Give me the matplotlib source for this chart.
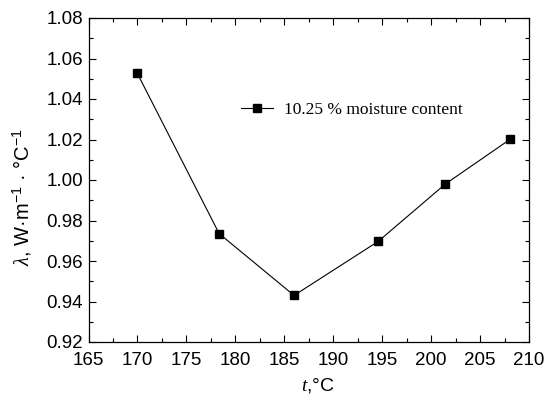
import matplotlib
matplotlib.use("Agg")
import matplotlib.pyplot as plt
from matplotlib.ticker import MultipleLocator

temps = [169.95, 178.35, 186.0, 194.6, 201.45, 208.1]
conductivity = [1.053, 0.9735, 0.943, 0.9697, 0.998, 1.0202]
series_label = "10.25 % moisture content"

x_ticks = [165, 170, 175, 180, 185, 190, 195, 200, 205, 210]
y_ticks = [0.92, 0.94, 0.96, 0.98, 1.00, 1.02, 1.04, 1.06, 1.08]

plt.rcParams['font.family'] = ['Liberation Sans', 'DejaVu Sans']
plt.rcParams['mathtext.fontset'] = 'custom'
plt.rcParams['mathtext.it'] = 'Liberation Serif:italic'
plt.rcParams['mathtext.rm'] = 'Liberation Sans'

W, H = 548, 396
left, right, top, bottom = 88.5, 529, 18, 342
fig = plt.figure(figsize=(W/100, H/100), dpi=100)
ax = fig.add_axes([left/W, 1 - bottom/H, (right-left)/W, (bottom-top)/H])

ax.plot(temps, conductivity, color='black', lw=0.8, marker='s', ms=5.5,
        markerfacecolor='black', markeredgecolor='black', label=series_label)

ax.set_xlim(165, 210)
ax.set_ylim(0.92, 1.08)
ax.set_xticks(x_ticks)
ax.set_yticks(y_ticks)
ax.set_xticklabels([str(v) for v in x_ticks])
ax.set_yticklabels([f"{v:.2f}" for v in y_ticks])
ax.xaxis.set_minor_locator(MultipleLocator(2.5))
ax.yaxis.set_minor_locator(MultipleLocator(0.01))
ax.tick_params(which='both', direction='in', top=True, right=True, labelsize=13.5)
ax.tick_params(axis='x', which='major', pad=7)
ax.tick_params(axis='y', which='major', pad=4)
ax.tick_params(which='major', length=5, width=0.8)
ax.tick_params(which='minor', length=3, width=0.8)
for s in ax.spines.values():
    s.set_linewidth(0.9)

ax.set_xlabel(r"$t$,°C", fontsize=14)
ax.xaxis.set_label_coords((318 - left) / (right - left), -(376 - bottom) / (bottom - top))
ax.set_ylabel(r"$\lambda$, W·m$^{-1}$ · °C$^{-1}$", fontsize=14.5)
ax.yaxis.set_label_coords(-(left - 34) / (right - left), (bottom - 197) / (bottom - top))

leg = ax.legend(loc='center left',
                bbox_to_anchor=((241 - left) / (right - left), (bottom - 110) / (bottom - top)),
                frameon=False, prop={'family': 'Liberation Serif', 'size': 12.5},
                handlelength=1.85, handletextpad=0.6, borderaxespad=0, borderpad=0)

fig.savefig("out.png", dpi=100)
